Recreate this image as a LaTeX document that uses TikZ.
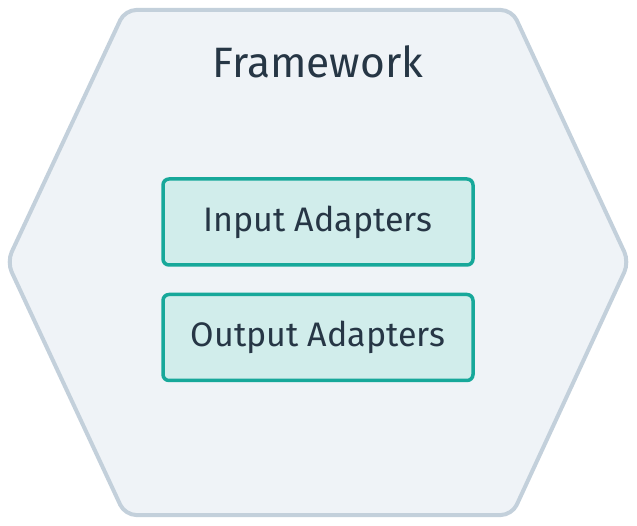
\documentclass[tikz,border=0pt]{standalone}
\usepackage{fontspec}
\setmainfont{Fira Sans}
\usetikzlibrary{positioning}
\definecolor{hexfill}{HTML}{EFF3F7}
\definecolor{hexline}{HTML}{C3D0DB}
\definecolor{adline}{HTML}{17A89A}
\definecolor{adfill}{HTML}{D1EDEB}
\definecolor{ink}{HTML}{263645}
\tikzset{
  adapter/.style={draw=adline,fill=adfill,line width=3.5pt,rounded corners=6pt,
    minimum width=310pt,minimum height=86pt,inner sep=0pt,
    text=ink,font=\fontsize{34}{40}\selectfont},
}
\begin{document}
\begin{tikzpicture}[x=1pt,y=1pt]
    \useasboundingbox (0,0) rectangle (637,525);
    % hexagon
    \coordinate (tl) at (125,515);
    \coordinate (tr) at (512,515);
    \coordinate (r) at (629,263);
    \coordinate (br) at (512,10);
    \coordinate (bl) at (125,10);
    \coordinate (l) at (7,263);
    \draw[hexline,fill=hexfill,line width=4pt,rounded corners=11pt,line join=round]
      (tl) -- (tr) -- (r) -- (br) -- (bl) -- (l) -- cycle;
    \node[text=ink,font=\fontsize{42.5}{48}\selectfont] (frame) at (318,463) {Framework};
    \node[adapter] (input) at (318,303) {Input Adapters};
    \node[adapter,below=26pt of input] (output) {Output Adapters};
\end{tikzpicture}
\end{document}
